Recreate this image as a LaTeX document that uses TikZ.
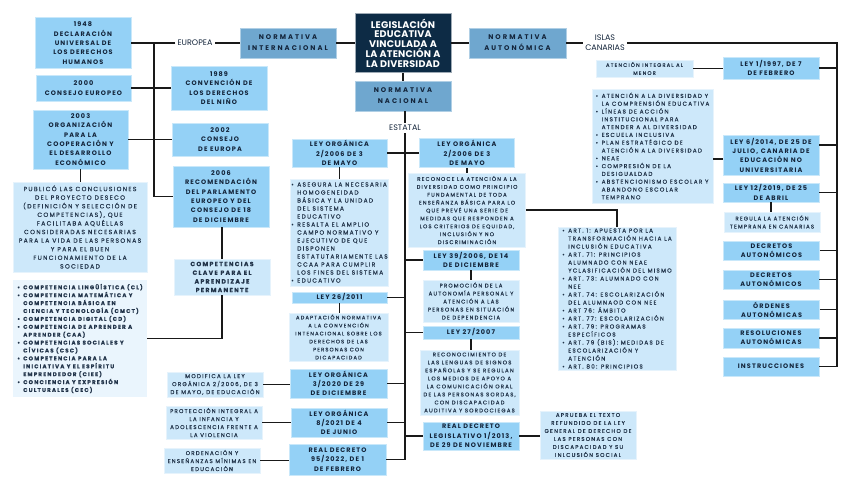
\documentclass[tikz,border=0pt]{standalone}
\usepackage{fontspec}
\setmainfont{Poppins}[LetterSpace=17]
\newfontfamily\smallfam{Poppins}[LetterSpace=22,FakeBold=0.45]
\newfontfamily\headfam{Poppins}[LetterSpace=30]
\newfontfamily\labelfam{Poppins}
\newfontfamily\titlefam{Poppins}[LetterSpace=2]
\usetikzlibrary{positioning,calc}

\definecolor{keyblue}{HTML}{94D1F6}
\definecolor{paleblue}{HTML}{CDE8FA}
\definecolor{softblue}{HTML}{EAF5FD}
\definecolor{headblue}{HTML}{6FA7CF}
\definecolor{navy}{HTML}{0D2B45}
\definecolor{ink}{HTML}{13243A}
\definecolor{smallink}{HTML}{22344A}

\newcommand\itm{\makebox[6pt][l]{\textbullet}}
\newcommand\cnt{\hspace*{6pt}}

\tikzset{
 sz/.style 2 args={minimum width=#1pt,minimum height=#2pt},
 fs/.style 2 args={font=\smallfam\fontsize{#1}{#2}\selectfont},
 box/.style={inner sep=1pt,align=center,text=ink},
 keybox/.style={box,fill=keyblue,draw=keyblue!50!white,line width=.8pt,font=\fontsize{6.5}{9.3}\selectfont\bfseries},
 palebox/.style={box,fill=paleblue,draw=paleblue!50!white,line width=.8pt,text=smallink,fs={5.4}{8}},
 softbox/.style={box,fill=softblue,text=smallink,font=\smallfam\fontsize{5.5}{7.9}\selectfont\bfseries},
 headbox/.style={box,fill=headblue,draw=headblue!55!white,line width=.8pt,font=\headfam\fontsize{6.8}{11}\selectfont\bfseries},
 titlebox/.style={box,fill=navy,draw=navy!40!white,line width=.8pt,text=white,font=\titlefam\fontsize{9.6}{9.8}\selectfont\bfseries},
 lbl/.style={inner sep=2pt,align=center,text=ink,font=\labelfam\fontsize{8}{10}\selectfont},
 link/.style={draw=black!90,line width=1.5pt}
}

\begin{document}
\begin{tikzpicture}[x=1pt,y=-1pt]
\useasboundingbox (0,0) rectangle (848,477);

% centre
\node[titlebox,sz={96}{59}] (title) at (403,43) {LEGISLACIÓN\\EDUCATIVA\\VINCULADA A\\LA ATENCIÓN A\\LA DIVERSIDAD};
\node[headbox,sz={96}{30}] (ninter) at (288,43) {NORMATIVA\\INTERNACIONAL};
\node[headbox,sz={97}{30}] (nauto) at (517.5,43) {NORMATIVA\\AUTONÓMICA};
\node[headbox,sz={96}{30}] (nnac) at (403,96) {NORMATIVA\\NACIONAL};
\node[lbl] (europea) at (195,43) {EUROPEA};
\node[lbl] (estatal) at (405,128) {ESTATAL};
\node[lbl] (canarias) at (605,43) {ISLAS\\CANARIAS};

% europea
\node[keybox,sz={96}{51}] (d1948) at (83,43) {1948\\DECLARACIÓN\\UNIVERSAL DE\\LOS DERECHOS\\HUMANOS};
\node[keybox,sz={95}{26}] (c2000) at (83.5,88) {2000\\CONSEJO EUROPEO};
\node[keybox,sz={95}{59}] (o2003) at (80.5,139.5) {2003\\ORGANIZACIÓN\\PARA LA\\COOPERACIÓN Y\\EL DESARROLLO\\ECONÓMICO};
\node[keybox,sz={96}{44}] (c1989) at (219,88) {1989\\CONVENCIÓN DE\\LOS DERECHOS\\DEL NIÑO};
\node[keybox,sz={96}{33}] (c2002) at (220,139.5) {2002\\CONSEJO\\DE EUROPA};
\node[keybox,sz={96}{61}] (r2006) at (221,196.5) {2006\\RECOMENDACIÓN\\DEL PARLAMENTO\\EUROPEO Y DEL\\CONSEJO DE 18\\DE DICIEMBRE};
\node[palebox,sz={134}{90},fs={6.1}{8.6}] (deseco) at (80,227) {PUBLICÓ LAS CONCLUSIONES\\DEL PROYECTO DESECO\\(DEFINICIÓN Y SELECCIÓN DE\\COMPETENCIAS), QUE\\FACILITABA AQUÉLLAS\\CONSIDERADAS NECESARIAS\\PARA LA VIDA DE LAS PERSONAS\\Y PARA EL BUEN\\FUNCIONAMIENTO DE LA\\SOCIEDAD};
\node[softbox,sz={134}{117},align=left] (claves) at (80,338.5) {\itm COMPETENCIA LINGÜÍSTICA (CL)\\\itm COMPETENCIA MATEMÁTICA  Y\\\cnt COMPETENCIA BÁSICA EN\\\cnt CIENCIA Y TECNOLOGÍA (CMCT)\\\itm COMPETENCIA DIGITAL (CD)\\\itm COMPETENCIA DE APRENDER A\\\cnt APRENDER (CAA)\\\itm COMPETENCIAS SOCIALES Y\\\cnt CÍVICAS (CSC)\\\itm COMPETENCIA PARA LA\\\cnt INICIATIVA Y EL ESPÍRITU\\\cnt EMPRENDEDOR (CIEE)\\\itm CONCIENCIA Y EXPRESIÓN\\\cnt CULTURALES (CEC)};
\node[palebox,sz={96}{36},font=\smallfam\fontsize{6.1}{8.7}\selectfont\bfseries] (compclave) at (222,277) {COMPETENCIAS\\CLAVE PARA EL\\APRENDIZAJE\\PERMANENTE};

% estatal
\node[keybox,sz={95}{28}] (lo2006a) at (339.5,153) {LEY ORGÁNICA\\2/2006 DE 3\\DE MAYO};
\node[keybox,sz={95}{29}] (lo2006b) at (467,153) {LEY ORGÁNICA\\2/2006 DE 3\\DE MAYO};
\node[palebox,sz={95}{107},align=left,fs={5.9}{8}] (homog) at (339.5,232.5) {\itm ASEGURA LA NECESARIA\\\cnt HOMOGENEIDAD\\\cnt BÁSICA Y LA UNIDAD\\\cnt DEL SISTEMA\\\cnt EDUCATIVO\\\itm RESALTA EL AMPLIO\\\cnt CAMPO NORMATIVO Y\\\cnt EJECUTIVO DE QUE\\\cnt DISPONEN\\\cnt ESTATUTARIAMENTE LAS\\\cnt CCAA PARA CUMPLIR\\\cnt LOS FINES DEL SISTEMA\\\itm EDUCATIVO};
\node[palebox,sz={117}{74},fs={5.3}{7.9}] (reconoce) at (467,210) {RECONOCE LA ATENCIÓN A LA\\DIVERSIDAD COMO PRINCIPIO\\FUNDAMENTAL DE TODA\\ENSEÑANZA BÁSICA PARA LO\\QUE PREVÉ UNA SERIE DE\\MEDIDAS QUE RESPONDEN A\\LOS CRITERIOS DE EQUIDAD,\\INCLUSIÓN Y NO\\DISCRIMINACIÓN};
\node[keybox,sz={96}{20}] (ley39) at (471,260) {LEY 39/2006, DE 14\\DE DICIEMBRE};
\node[palebox,sz={96}{42}] (promo) at (471,301) {PROMOCIÓN DE LA\\AUTONOMÍA PERSONAL Y\\ATENCIÓN A LAS\\PERSONAS EN SITUACIÓN\\DE DEPENDENCIA};
\node[keybox,sz={95}{11}] (ley26) at (339.5,297.5) {LEY 26/2011};
\node[palebox,sz={99}{48},fs={5.2}{8}] (adapt) at (338.5,337) {ADAPTACIÓN NORMATIVA\\A LA CONVENCIÓN\\INTENACIONAL SOBRE LOS\\DERECHOS DE LAS\\PERSONAS CON\\DICAPACIDAD};
\node[keybox,sz={96}{13}] (ley27) at (471,332.5) {LEY 27/2007};
\node[palebox,sz={99}{65}] (signos) at (469.5,382.5) {RECONOCIMIENTO DE\\LAS LENGUAS DE SIGNOS\\ESPAÑOLAS Y SE REGULAN\\LOS MEDIOS DE APOYO A\\LA COMUNICACIÓN ORAL\\DE LAS PERSONAS SORDAS,\\CON DISCAPACIDAD\\AUDITIVA Y SORDOCIEGAS};
\node[keybox,sz={97}{29}] (lo2020) at (338.5,383.5) {LEY ORGÁNICA\\3/2020 DE 29\\DE DICIEMBRE};
\node[palebox,sz={96}{25},fs={5.6}{8}] (modifica) at (215,384.5) {MODIFICA LA LEY\\ORGÁNICA 2/2006, DE 3\\DE MAYO, DE EDUCACIÓN};
\node[keybox,sz={96}{29}] (lo2021) at (339,422.5) {LEY ORGÁNICA\\8/2021 DE 4\\DE JUNIO};
\node[palebox,sz={96}{33},fs={5.5}{8}] (violencia) at (214,422.5) {PROTECCIÓN INTEGRAL A\\LA INFANCIA Y\\ADOLESCENCIA FRENTE A\\LA VIOLENCIA};
\node[keybox,sz={97}{31}] (rd2022) at (337.5,459.5) {REAL DECRETO\\95/2022, DE 1\\DE FEBRERO};
\node[palebox,sz={96}{25},fs={5.5}{8}] (minimas) at (212,460.5) {ORDENACIÓN Y\\ENSEÑANZAS MÍNIMAS EN\\EDUCACIÓN};
\node[keybox,sz={96}{28}] (rdleg) at (471,436) {REAL DECRETO\\LEGISLATIVO 1/2013,\\DE 29 DE NOVIEMBRE};
\node[palebox,sz={96}{48},fs={5.5}{8}] (aprueba) at (588,435) {APRUEBA EL TEXTO\\REFUNDIDO DE LA LEY\\GENERAL DE DERECHO DE\\LAS PERSONAS CON\\DISCAPACIDAD Y SU\\INLCUSIÓN SOCIAL};
\node[palebox,sz={118}{143},align=left,fs={5.7}{8}] (arts) at (617,298.5) {\itm ART. 1: APUESTA POR LA\\\cnt TRANSFORMACIÓN HACIA LA\\\cnt INCLUSIÓN EDUCATIVA\\\itm ART. 71: PRINCIPIOS\\\cnt ALUMNADO CON NEAE\\\cnt YCLASIFICACIÓN DEL MISMO\\\itm ART. 73: ALUMNADO CON\\\cnt NEE\\\itm ART. 74: ESCOLARIZACIÓN\\\cnt DEL ALUMNAOD CON NEE\\\itm ART 76: ÁMBITO\\\itm ART. 77: ESCOLARIZACIÓN\\\itm ART. 79: PROGRAMAS\\\cnt ESPECÍFICOS\\\itm ART. 79 (BIS): MEDIDAS DE\\\cnt ESCOLARIZACIÓN Y\\\cnt ATENCIÓN\\\itm ART. 80: PRINCIPIOS};

% canarias
\node[palebox,sz={97}{17},fs={5.2}{8}] (menor) at (644.5,68.5) {ATENCIÓN INTEGRAL AL\\MENOR};
\node[keybox,sz={96}{22}] (ley1997) at (771,68) {LEY 1/1997, DE 7\\DE FEBRERO};
\node[palebox,sz={121}{114},align=left,fs={5.7}{7.8}] (lineas) at (652.5,146) {\itm ATENCIÓN A LA DIVERSIDAD Y\\\cnt LA COMPRENSIÓN EDUCATIVA\\\itm LÍNEAS DE ACCIÓN\\\cnt INSTITUCIONAL PARA\\\cnt ATENDER A AL DIVERSIDAD\\\itm ESCUELA INCLUSIVA\\\itm PLAN ESTRATÉGICO DE\\\cnt ATENCIÓN A LA DIVERSIDAD\\\itm NEAE\\\itm COMPRESIÓN DE LA\\\cnt DESIGUALDAD\\\itm ABSTENCIONISMO ESCOLAR Y\\\cnt ABANDONO ESCOLAR\\\cnt TEMPRANO};
\node[keybox,sz={96}{40}] (ley2014) at (771,155) {LEY 6/2014, DE 25 DE\\JULIO, CANARIA DE\\EDUCACIÓN NO\\UNIVERSITARIA};
\node[keybox,sz={96}{19}] (ley2019) at (771,192.5) {LEY 12/2019, DE 25\\DE ABRIL};
\node[palebox,sz={96}{20}] (regula) at (772,222) {REGULA LA ATENCIÓN\\TEMPRANA EN CANARIAS};
\node[keybox,sz={96}{19}] (decA) at (771.5,250.5) {DECRETOS\\AUTONÓMICOS};
\node[keybox,sz={96}{19}] (decB) at (771,279.5) {DECRETOS\\AUTONÓMICOS};
\node[keybox,sz={96}{19}] (ordenes) at (771.5,309.5) {ÓRDENES\\AUTONÓMICAS};
\node[keybox,sz={96}{20}] (resol) at (771,338) {RESOLUCIONES\\AUTONÓMICAS};
\node[keybox,sz={96}{19}] (instr) at (771,366.5) {INSTRUCCIONES};

% connectors
\draw[link] (title) -- (ninter);
\draw[link] (title) -- (nauto);
\draw[link] (title) -- (nnac);
\draw[link] (ninter) -- (europea);
\draw[link] (europea) -- (d1948);
\coordinate (eutop) at (154,43);
\draw[link] (eutop) |- (r2006.west);
\draw[link] (c2000) -- (c1989);
\draw[link] (o2003) -- (c2002);
\draw[link] (o2003.south) -- (o2003.south |- deseco.north);
\draw[link] (r2006.south) -- (r2006.south -| compclave.north) -- (compclave.north);
\draw[link] (compclave.south) |- (claves.east);

\draw[link] (nnac.south -| estatal.north) -- (estatal);
\draw[link] (estatal.south) -- (estatal.south |- rd2022.east) -- (rd2022.east);
\draw[link] (lo2006a.east) -- (lo2006a.east -| lo2006b.west);
\foreach \n in {ley26,lo2020,lo2021}
 \draw[link] (\n.east) -- (\n.east -| estatal.south);
\foreach \n in {ley39,ley27,rdleg}
 \draw[link] (\n.west) -- (\n.west -| estatal.south);
\draw[link] (lo2006a.south) -- (lo2006a.south |- homog.north);
\draw[link] (ley26.south) -- (ley26.south |- adapt.north);
\draw[link] (lo2006b.south) -- (lo2006b.south |- reconoce.north);
\draw[link] (reconoce.east) -| (arts.north);
\draw[link] (ley39.south) -- (ley39.south |- promo.north);
\draw[link] (ley27.south) -- (ley27.south |- signos.north);
\draw[link] (rdleg.east) -- (rdleg.east -| aprueba.west);
\draw[link] (modifica.east) -- (modifica.east -| lo2020.west);
\draw[link] (violencia.east) -- (violencia.east -| lo2021.west);
\draw[link] (minimas.east) -- (minimas.east -| rd2022.west);

\draw[link] (nauto) -- (canarias);
\coordinate (rtop) at (837,43);
\draw[link] (canarias.east) -- (rtop) -- (rtop |- instr.east) -- (instr.east);
\foreach \n in {ley1997,ley2019,decA,decB,ordenes,resol}
 \draw[link] (\n.east) -- (\n.east -| rtop);
\draw[link] ([yshift=10pt]ley2014.east) -- ([yshift=10pt]ley2014.east -| rtop);
\draw[link] ([yshift=-4pt]ley2014.west) -- ([yshift=-4pt]ley2014.west -| lineas.east);
\draw[link] (menor.east) -- (menor.east -| ley1997.west);
\draw[link] (ley2019.south) -- (ley2019.south |- regula.north);
\end{tikzpicture}
\end{document}
